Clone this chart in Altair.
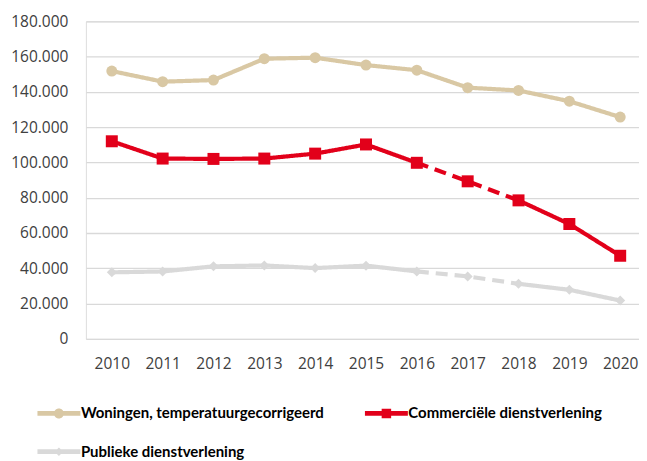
import altair as alt
import pandas as pd

years = [2010, 2011, 2012, 2013, 2014, 2015, 2016, 2017, 2018, 2019, 2020]
series_names = [
    "Woningen, temperatuurgecorrigeerd",
    "Commerciële dienstverlening",
    "Publieke dienstverlening",
]
woningen = [151800, 145800, 146700, 158800, 159400, 155200, 152300, 142400, 140800, 134700, 125700]
commercieel = [112000, 102200, 102000, 102200, 105000, 110200, 99800, 89300, 78500, 65100, 47100]
publiek = [37700, 38200, 41100, 41600, 40100, 41500, 38200, 35400, 31200, 27800, 21700]
y_ticks = [0, 20000, 40000, 60000, 80000, 100000, 120000, 140000, 160000, 180000]

segments = {
    series_names[0]: [(2010, 2020, "solid")],
    series_names[1]: [(2010, 2016, "solid"), (2016, 2018, "dashed"), (2018, 2020, "solid")],
    series_names[2]: [(2010, 2016, "solid"), (2016, 2018, "dashed"), (2018, 2020, "solid")],
}

colors = ["#D9C8A4", "#E2001A", "#D9D9D9"]

rows, line_rows = [], []
for name, vals in zip(series_names, [woningen, commercieel, publiek]):
    for yr, v in zip(years, vals):
        rows.append({"series": name, "year": yr, "value": v})
    for i, (a, b, style) in enumerate(segments[name]):
        for yr, v in zip(years, vals):
            if a <= yr <= b:
                line_rows.append({"series": name, "year": yr, "value": v,
                                  "seg": f"{name}-{i}", "style": style})
df = pd.DataFrame(rows)
line_df = pd.DataFrame(line_rows)

FONT = "Open Sans"
LEGEND_FONT = "Lato"

x_enc = alt.X(
    "year:Q",
    scale=alt.Scale(domain=[2009.49, 2020.37], nice=False, zero=False),
    axis=alt.Axis(values=years, format="d", grid=False, domain=False, ticks=False,
                  labelPadding=18, title=None, labelFlush=False, labelFont=FONT,
                  labelFontSize=15.5, labelColor="#404040"),
)
y_enc = alt.Y(
    "value:Q",
    scale=alt.Scale(domain=[0, 180000], nice=False),
    axis=alt.Axis(values=y_ticks, labelExpr="replace(format(datum.value, ','), ',', '.')",
                  domain=False, ticks=False, gridColor="#D9D9D9", gridWidth=1.3,
                  labelPadding=18, title=None, labelFont=FONT, labelFontSize=15.5,
                  labelColor="#404040", minExtent=75, maxExtent=75),
)
# colour scale for the drawn marks (sorted domain) and a separate fill scale for the legend
order = sorted(range(len(series_names)), key=lambda i: series_names[i])
color_scale = alt.Scale(domain=[series_names[i] for i in order], range=[colors[i] for i in order])

line_path = "M-4.3,-0.48 L4.3,-0.48 L4.3,0.48 L-4.3,0.48 Z "
legend_paths = [
    line_path + "M-1,0 A1,1 0 1,1 1,0 A1,1 0 1,1 -1,0 Z",
    line_path + "M-0.95,-0.95 L0.95,-0.95 L0.95,0.95 L-0.95,0.95 Z",
    line_path + "M0,-0.85 L0.85,0 L0,0.85 L-0.85,0 Z",
]
# legend fills column by column: W, P in the first column, C in the second
leg_order = [0, 2, 1]
fill_scale = alt.Scale(domain=[series_names[i] for i in leg_order],
                       range=[colors[i] for i in leg_order])
shape_scale = alt.Scale(domain=[series_names[i] for i in leg_order],
                        range=[legend_paths[i] for i in leg_order])

legend = alt.Legend(
    title=None, orient="none", legendX=-34.5, legendY=385, columns=2,
    columnPadding=41, rowPadding=22.5, symbolSize=100, symbolStrokeWidth=0,
    labelFont=LEGEND_FONT, labelFontSize=15, labelFontWeight="bold", labelColor="#000000",
    labelOffset=14.5, labelLimit=400, padding=0,
)

lines = alt.Chart(line_df).mark_line(strokeWidth=4.2, strokeJoin="round").encode(
    x=x_enc, y=y_enc,
    color=alt.Color("series:N", scale=color_scale, legend=None),
    detail="seg:N",
    strokeDash=alt.StrokeDash("style:N", scale=alt.Scale(domain=["solid", "dashed"],
                              range=[[1, 0], [12, 7]]), legend=None),
    order="year:Q",
)

marker_styles = [("circle", 121), ("square", 144), ("diamond", 100)]
point_layers = []
for name, (shape, size) in zip(series_names, marker_styles):
    point_layers.append(
        alt.Chart(df).transform_filter(alt.datum.series == name)
        .mark_point(filled=True, opacity=1, shape=shape, size=size)
        .encode(x=x_enc, y=y_enc,
                color=alt.Color("series:N", scale=color_scale, legend=None))
    )

legend_layer = alt.Chart(df).transform_filter("false").mark_point(
    filled=True, opacity=1, size=100
).encode(
    x=x_enc, y=y_enc,
    fill=alt.Fill("series:N", scale=fill_scale, legend=legend),
    shape=alt.Shape("series:N", scale=shape_scale, legend=legend),
)

chart = alt.layer(lines, *point_layers, legend_layer).properties(
    width=554, height=318,
    padding={"left": 2, "top": 6, "right": 0, "bottom": 0},
).configure_view(stroke=None).configure(background="white")

chart.save("out.html", embed_options={"renderer": "svg", "actions": False})
